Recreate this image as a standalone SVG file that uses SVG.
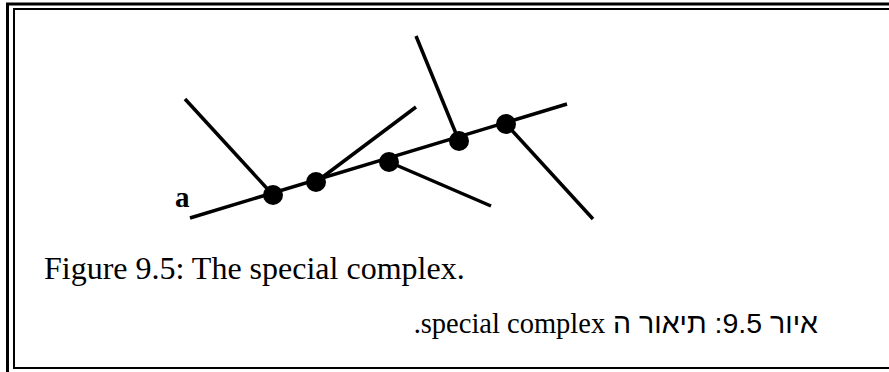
<svg xmlns="http://www.w3.org/2000/svg" width="889" height="372" viewBox="0 0 889 372">
<style>
.edge{stroke:#000;stroke-width:3.5;stroke-linecap:butt;fill:none}
.node{fill:#000}
.serif{font-family:"Liberation Serif","Times New Roman",serif;fill:#000}
.sans{font-family:"Liberation Sans",Arial,sans-serif;fill:#000}
</style>
<rect width="889" height="372" fill="#fff"/>
<g id="frame">
<line x1="6" y1="4" x2="889" y2="4" stroke="#000" stroke-width="3"/>
<line x1="7.5" y1="3" x2="7.5" y2="372" stroke="#000" stroke-width="3"/>
<rect x="14" y="9" width="880" height="359" fill="none" stroke="#000" stroke-width="2"/>
</g>
<g id="connectors">
<line class="edge" x1="190" y1="218" x2="567" y2="104"/>
<line class="edge" x1="273" y1="195" x2="185" y2="99"/>
<line class="edge" x1="316" y1="182" x2="416" y2="107"/>
<line class="edge" x1="389" y1="162" x2="491" y2="206"/>
<line class="edge" x1="459" y1="141" x2="416" y2="36"/>
<line class="edge" x1="506" y1="124" x2="593" y2="219"/>
</g>
<g id="n1"><circle class="node" cx="273" cy="195" r="10"/></g>
<g id="n2"><circle class="node" cx="316" cy="182" r="10"/></g>
<g id="n3"><circle class="node" cx="389" cy="162" r="10"/></g>
<g id="n4"><circle class="node" cx="459" cy="141" r="10"/></g>
<g id="n5"><circle class="node" cx="506" cy="124" r="10"/></g>
<g id="label-a"><text class="serif" x="175" y="207" font-size="29" font-weight="bold">a</text></g>
<g id="caption">
<text class="serif" x="44" y="279" font-size="32">Figure 9.5: The special complex.</text>
<text class="sans" x="818" y="333" font-size="28.5" direction="rtl" unicode-bidi="embed" text-anchor="start">איור 9.5: תיאור ה <tspan class="serif">special complex.</tspan></text>
</g>
</svg>
